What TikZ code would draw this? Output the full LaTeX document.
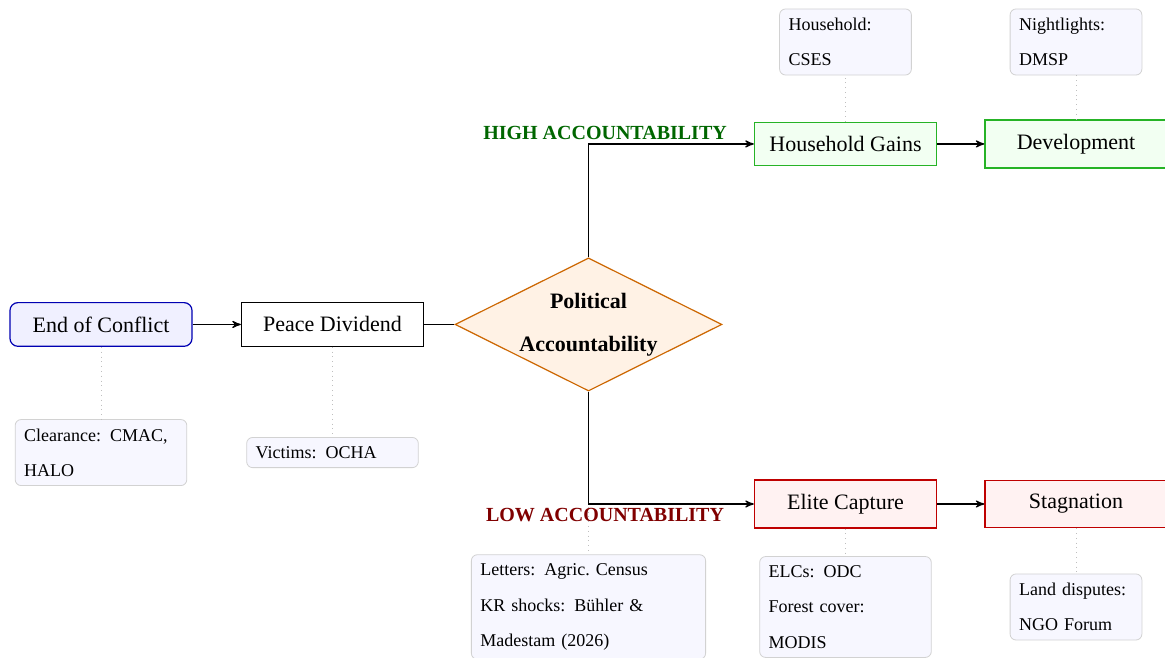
\documentclass[tikz,border=0pt]{standalone}
\usepackage{fontspec}
\setmainfont{Liberation Serif}
\usetikzlibrary{shapes.geometric,arrows}

\begin{document}
\begin{tikzpicture}[
    stage/.style={draw,semithick,rectangle,minimum width=3.2cm,
        inner xsep=4pt,inner ysep=7pt,font={\fontsize{11}{13.6}\selectfont}},
    start/.style={stage,rounded corners=4pt,draw=blue!70!black,fill=blue!6},
    good/.style={stage,draw=green!65!black!85,fill=green!5},
    bad/.style={stage,draw=red!75!black,fill=red!5},
    decision/.style={diamond,aspect=2,semithick,draw=orange!80!black,
        fill=orange!10,minimum width=4.69cm,minimum height=2.34cm,
        inner sep=0pt,align=center,
        font={\fontsize{11}{21.5}\selectfont\bfseries}},
    source/.style={draw=gray!35,fill=blue!3,rounded corners=3pt,
        inner sep=4.5pt,align=left,font={\fontsize{9}{17.7}\selectfont}},
    branch/.style={inner sep=2pt,font={\fontsize{10}{12}\selectfont\bfseries}},
    flow/.style={->,>=stealth',semithick},
    link/.style={gray!50,dotted}]
\useasboundingbox (0,0) rectangle (20.473,11.563);

% main chain
\node[start] (end) at (1.775,5.861) {End of Conflict};
\node[stage] (dividend) at (5.843,5.861) {Peace Dividend};
\node[decision] (account) at (10.342,5.861) {Political\\Accountability};
\node[good] (gains) at (14.858,9.033) {Household Gains};
\node[good] (develop) at (18.909,9.033) {Development};
\node[bad] (capture) at (14.858,2.706) {Elite Capture};
\node[bad] (stagnate) at (18.909,2.706) {Stagnation};

% data sources
\node[source,text width=2.7cm] (clearance) at (1.775,3.61) {Clearance: CMAC,\\HALO};
\node[source,text width=2.7cm] (victims) at (5.843,3.61) {Victims: OCHA};
\node[source,text width=3.8cm] (letters) at (10.342,0.896)
    {Letters: Agric.\ Census\\KR shocks: Bühler \&\\Madestam (2026)};
\node[source,text width=2.7cm] (elcs) at (14.858,0.896) {ELCs: ODC\\Forest cover:\\MODIS};
\node[source,text width=2cm] (hhsurvey) at (14.858,10.825) {Household:\\CSES};
\node[source,text width=2cm] (lights) at (18.909,10.825) {Nightlights:\\DMSP};
\node[source,text width=2cm] (disputes) at (18.909,0.896) {Land disputes:\\NGO Forum};

\draw[link] (end) -- (clearance);
\draw[link] (dividend) -- (victims);
\draw[link] (account.south) -- (letters);
\draw[link] (capture) -- (elcs);
\draw[link] (gains) -- (hhsurvey);
\draw[link] (develop) -- (lights);
\draw[link] (stagnate) -- (disputes);

\draw[flow] (end) -- (dividend);
\draw[semithick] (dividend) -- (account);
\draw[flow] (account.north) |- (gains)
    node[pos=0.55,above,branch,green!40!black] {HIGH ACCOUNTABILITY};
\draw[flow] (account.south) |- (capture)
    node[pos=0.55,below,branch,red!50!black] {LOW ACCOUNTABILITY};
\draw[flow] (gains) -- (develop);
\draw[flow] (capture) -- (stagnate);
\end{tikzpicture}
\end{document}
